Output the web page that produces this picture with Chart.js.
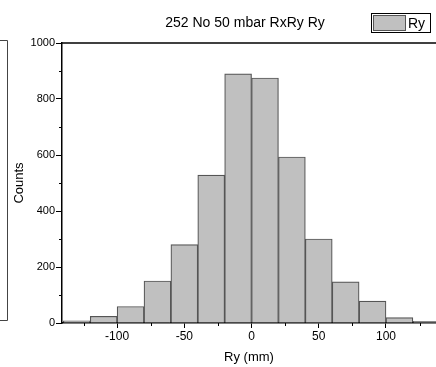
<!DOCTYPE html>
<html>
<head>
<meta charset="utf-8">
<script src="https://cdn.jsdelivr.net/npm/chart.js@4.4.1/dist/chart.umd.min.js"></script>
<style>
  body { margin: 0; background: #fff; overflow: hidden; }
  canvas { display: block; }
</style>
</head>
<body>
<canvas id="hist" width="436" height="367"></canvas>
<script>
// histogram bins (centre of each 20 mm bin) and counts
const binCenters = [-130, -110, -90, -70, -50, -30, -10, 10, 30, 50, 70, 90, 110, 130];
const counts = [8, 24, 59, 150, 280, 528, 890, 875, 593, 300, 147, 78, 19, 6];
const xTicks = [-100, -50, 0, 50, 100];
const yTicks = [0, 200, 400, 600, 800, 1000];
const xMinor = [-125, -75, -25, 25, 75, 125];
const yMinor = [100, 300, 500, 700, 900];
const chartTitle = '252 No 50 mbar RxRy Ry';
const seriesName = 'Ry';

const FONT = 'Liberation Sans, Arial, sans-serif';

// draws top frame line, minor ticks, title, legend and the bit of the neighbour panel
const extras = {
  id: 'extras',
  afterDraw(chart) {
    const ctx = chart.ctx;
    const a = chart.chartArea;
    const xs = chart.scales.x, ys = chart.scales.y;
    ctx.save();

    // top frame line
    ctx.strokeStyle = '#000';
    ctx.lineWidth = 1.5;
    ctx.beginPath();
    ctx.moveTo(a.left, a.top);
    ctx.lineTo(chart.width, a.top);
    ctx.stroke();

    // minor ticks
    ctx.lineWidth = 1;
    ctx.beginPath();
    xMinor.forEach(v => {
      const px = Math.round(xs.getPixelForValue(v)) + 0.5;
      ctx.moveTo(px, a.bottom);
      ctx.lineTo(px, a.bottom + 3);
    });
    yMinor.forEach(v => {
      const py = Math.round(ys.getPixelForValue(v)) + 0.5;
      ctx.moveTo(a.left, py);
      ctx.lineTo(a.left - 3, py);
    });
    ctx.stroke();

    // title
    ctx.fillStyle = '#000';
    ctx.font = '14px ' + FONT;
    ctx.textAlign = 'center';
    ctx.textBaseline = 'middle';
    ctx.fillText(chartTitle, 245, 23);

    // legend
    const ds = chart.data.datasets[0];
    ctx.strokeStyle = '#000';
    ctx.lineWidth = 1;
    ctx.strokeRect(371.5, 13.5, 59, 19);
    ctx.fillStyle = ds.backgroundColor;
    ctx.fillRect(373, 15, 32, 16);
    ctx.strokeStyle = ds.borderColor;
    ctx.strokeRect(373.5, 15.5, 32, 15);
    ctx.fillStyle = '#000';
    ctx.textAlign = 'left';
    ctx.fillText(ds.label, 408, 24);

    // edge of the neighbouring panel
    ctx.strokeStyle = '#444';
    ctx.beginPath();
    ctx.moveTo(0, 40.5);
    ctx.lineTo(7.5, 40.5);
    ctx.lineTo(7.5, 320.5);
    ctx.lineTo(0, 320.5);
    ctx.stroke();

    ctx.restore();
  }
};

new Chart(document.getElementById('hist'), {
  type: 'bar',
  data: {
    datasets: [{
      label: seriesName,
      data: binCenters.map((c, i) => ({ x: c, y: counts[i] })),
      backgroundColor: '#c0c0c0',
      borderColor: '#555555',
      borderWidth: 1.2,
      barPercentage: 1,
      categoryPercentage: 1
    }]
  },
  options: {
    responsive: false,
    animation: false,
    layout: { padding: { top: 43, right: 0, bottom: 0, left: 0 } },
    plugins: {
      legend: { display: false },
      title: { display: false },
      tooltip: { enabled: false }
    },
    scales: {
      x: {
        type: 'linear',
        offset: false,
        min: -141,
        max: 137.2,
        afterBuildTicks: s => { s.ticks = xTicks.map(v => ({ value: v })); },
        afterFit: s => { s.height = 44; },
        grid: { offset: false, drawOnChartArea: false, tickLength: 5, color: '#000' },
        border: { color: '#000', width: 1.5 },
        ticks: { color: '#000', padding: 1, maxRotation: 0, font: { family: FONT, size: 12 }, callback: v => String(v) },
        title: { display: true, text: 'Ry (mm)', color: '#000', font: { family: FONT, size: 13 }, padding: { top: 4, bottom: 2 } }
      },
      y: {
        min: 0,
        max: 1000,
        afterBuildTicks: s => { s.ticks = yTicks.map(v => ({ value: v })); },
        afterFit: s => { s.width = 62; },
        grid: { drawOnChartArea: false, tickLength: 6, color: '#000' },
        border: { color: '#000', width: 1.5 },
        ticks: { color: '#000', padding: 1, font: { family: FONT, size: 11 }, callback: v => String(v) },
        title: { display: true, text: 'Counts', color: '#000', font: { family: FONT, size: 13 }, padding: { top: 12, bottom: 0 } }
      }
    }
  },
  plugins: [extras]
});
</script>
</body>
</html>
